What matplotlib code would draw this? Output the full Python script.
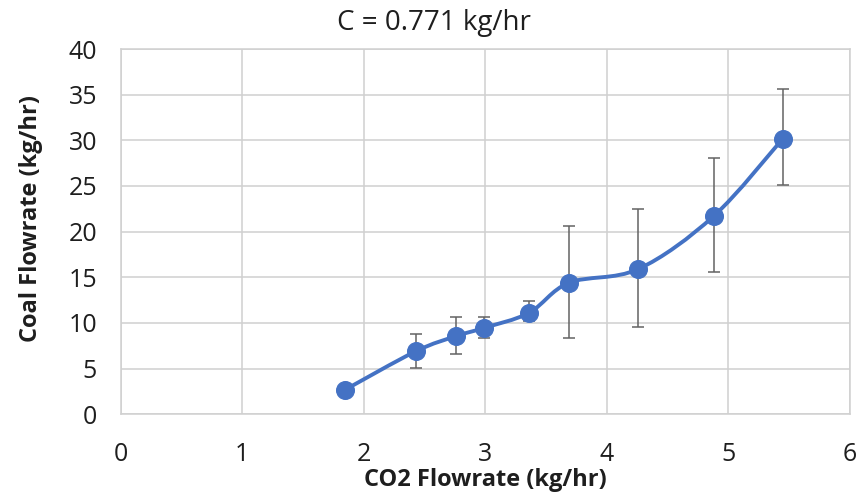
import numpy as np
import matplotlib
matplotlib.use("Agg")
import matplotlib.pyplot as plt
from matplotlib.path import Path
from matplotlib.patches import PathPatch

# données
co2_flow = [1.85, 2.43, 2.76, 2.99, 3.36, 3.69, 4.26, 4.88, 5.45]
coal_flow = [2.7, 6.9, 8.55, 9.45, 11.1, 14.4, 15.9, 21.7, 30.2]
err_low = [0.0, 1.8, 1.95, 1.1, 0.9, 6.1, 6.4, 6.1, 5.1]
err_high = [0.0, 1.9, 2.05, 1.15, 1.3, 6.2, 6.6, 6.4, 5.4]

title = "C = 0.771 kg/hr"
blue = "#4472C4"
txt = "#1e1e1e"

plt.rcParams['font.family'] = ['Open Sans', 'DejaVu Sans']

fig = plt.figure(figsize=(8.68, 4.96), dpi=100)
ax = fig.add_axes([0.139, 0.165, 0.840, 0.736])

# courbe lissée (Bezier type Excel)
pts = np.column_stack([co2_flow, coal_flow])
verts = [pts[0]]
codes = [Path.MOVETO]
n = len(pts)
for i in range(n - 1):
    p0 = pts[max(i - 1, 0)]
    p1 = pts[i]
    p2 = pts[i + 1]
    p3 = pts[min(i + 2, n - 1)]
    c1 = p1 + (p2 - p0) / 6
    c2 = p2 - (p3 - p1) / 6
    verts += [c1, c2, p2]
    codes += [Path.CURVE4] * 3
ax.add_patch(PathPatch(Path(verts, codes), facecolor='none', edgecolor=blue,
                       lw=2.8, capstyle='round', zorder=3))

ax.errorbar(co2_flow, coal_flow, yerr=[err_low, err_high], fmt='none',
            ecolor='#636363', elinewidth=1.1, capsize=4.5, capthick=1.1, zorder=2)
ax.plot(co2_flow, coal_flow, 'o', color=blue, markersize=12.7, zorder=4)

ax.set_xlim(0, 6)
ax.set_ylim(0, 40)
ax.set_xticks(range(0, 7))
ax.set_yticks(range(0, 41, 5))
ax.grid(True, color='#d0d0d0', lw=1.1)
ax.set_axisbelow(True)
for s in ax.spines.values():
    s.set_color('#d0d0d0')
    s.set_linewidth(1.1)
ax.tick_params(length=0, labelsize=18, colors=txt)
ax.tick_params(axis='y', pad=17)
ax.tick_params(axis='x', pad=20)

fig.suptitle(title, x=0.5, y=0.982, va='top', fontsize=20, color=txt)
ax.set_xlabel("CO2 Flowrate (kg/hr)", fontsize=17, fontweight='bold', color=txt, labelpad=1)
ax.set_ylabel("Coal Flowrate (kg/hr)", fontsize=17, fontweight='bold', color=txt)
ax.yaxis.set_label_coords(-0.106, 0.537)

fig.savefig("out.png", dpi=100)
